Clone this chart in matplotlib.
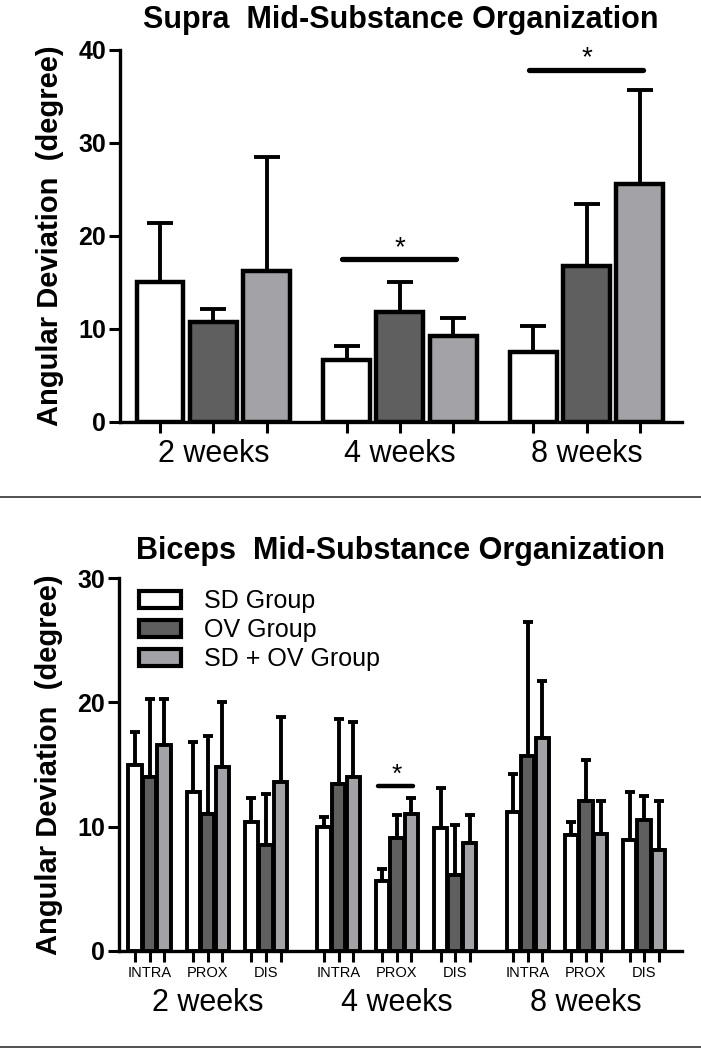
import numpy as np
import matplotlib.pyplot as plt
from matplotlib.patches import Patch
from matplotlib.lines import Line2D
from matplotlib.transforms import blended_transform_factory

plt.rcParams['font.family'] = ['Liberation Sans', 'DejaVu Sans']

# ---- Supra data (mean, error length) ----
weeks = ['2 weeks', '4 weeks', '8 weeks']
groups = ['SD Group', 'OV Group', 'SD + OV Group']
supra_sd = [15.0, 6.7, 7.5]
supra_sd_err = [6.4, 1.5, 2.8]
supra_ov = [10.8, 11.8, 16.8]
supra_ov_err = [1.4, 3.2, 6.6]
supra_sdov = [16.2, 9.3, 25.6]
supra_sdov_err = [12.3, 1.9, 10.1]
# significance: (week index, line height)
supra_sig = [(1, 17.5), (2, 37.9)]

# ---- Biceps data: 2w INTRA/PROX/DIS, 4w ..., 8w ... ----
regions = ['INTRA', 'PROX', 'DIS']
biceps_sd = [15.0, 12.8, 10.4, 10.0, 5.6, 9.9, 11.2, 9.3, 8.9]
biceps_sd_err = [2.6, 4.0, 1.9, 0.8, 1.0, 3.2, 3.0, 1.1, 3.9]
biceps_ov = [14.0, 11.0, 8.5, 13.4, 9.1, 6.1, 15.7, 12.1, 10.5]
biceps_ov_err = [6.3, 6.3, 4.1, 5.3, 1.8, 4.0, 10.8, 3.3, 2.0]
biceps_sdov = [16.6, 14.8, 13.6, 14.0, 11.0, 8.7, 17.1, 9.4, 8.1]
biceps_sdov_err = [3.7, 5.2, 5.2, 4.4, 1.3, 2.2, 4.6, 2.7, 4.0]
# significance: (subgroup index, line height)
biceps_sig = [(4, 13.3)]

colors = ['white', '#5f5f5f', '#a3a3a7']

fig = plt.figure(figsize=(7.01, 10.5), dpi=100)

# ================= top chart =================
ax1 = fig.add_axes([0.1712, 0.5981, 0.8017, 0.3543])
gpos = np.array([0, 3.5, 7])
series = [(supra_sd, supra_sd_err), (supra_ov, supra_ov_err), (supra_sdov, supra_sdov_err)]
for i, (m, e) in enumerate(series):
    x = gpos + i
    ax1.bar(x, m, 0.88, color=colors[i], edgecolor='black', linewidth=3.2, zorder=3,
            yerr=[np.zeros(len(e)), e], capsize=9.4,
            error_kw=dict(elinewidth=2.8, capthick=2.8, ecolor='black', zorder=2))
for wi, h in supra_sig:
    ax1.plot([gpos[wi] - 0.08, gpos[wi] + 2.05], [h, h], color='black', lw=3.8,
             solid_capstyle='round', zorder=4)
    ax1.text(gpos[wi] + 1, h - 0.2, '*', ha='center', va='bottom', fontsize=20)

ax1.set_xlim(-0.75, 9.79)
ax1.set_ylim(0, 40)
ax1.set_yticks([0, 10, 20, 30, 40])
ax1.xaxis.remove_overlapping_locs = False
ax1.set_xticks(np.concatenate([gpos + k for k in range(3)]))
ax1.set_xticklabels([])
ax1.set_xticks(gpos + 1, minor=True)
ax1.set_xticklabels(weeks, minor=True, fontsize=22)
ax1.tick_params(axis='x', which='minor', length=0, pad=12)
ax1.set_title('Supra  Mid-Substance Organization', fontsize=22, fontweight='bold', pad=16)
ax1.set_ylabel('Angular Deviation  (degree)', fontsize=21, fontweight='bold')
ax1.yaxis.set_label_coords(-0.10, 0.5)

# ================= bottom chart =================
ax2 = fig.add_axes([0.1698, 0.0943, 0.8031, 0.3552])
sub = np.array([w * 13 + r * 4 for w in range(3) for r in range(3)])
series = [(biceps_sd, biceps_sd_err), (biceps_ov, biceps_ov_err), (biceps_sdov, biceps_sdov_err)]
for i, (m, e) in enumerate(series):
    x = sub + i
    ax2.bar(x, m, 0.92, color=colors[i], edgecolor='black', linewidth=2.8, zorder=3,
            yerr=[np.zeros(len(e)), e], capsize=3.8,
            error_kw=dict(elinewidth=2.8, capthick=2.8, ecolor='black', zorder=2))
for si, h in biceps_sig:
    ax2.plot([sub[si] - 0.3, sub[si] + 2.1], [h, h], color='black', lw=3.2,
             solid_capstyle='round', zorder=4)
    ax2.text(sub[si] + 1, h - 0.1, '*', ha='center', va='bottom', fontsize=19)

ax2.set_xlim(-1.1, 37.6)
ax2.set_ylim(0, 30)
ax2.set_yticks([0, 10, 20, 30])
ax2.xaxis.remove_overlapping_locs = False
ax2.set_xticks(np.concatenate([sub + k for k in range(3)]))
ax2.set_xticklabels([])
ax2.set_xticks(sub + 1, minor=True)
ax2.set_xticklabels(regions * 3, minor=True, fontsize=10.5)
ax2.tick_params(axis='x', which='minor', length=0, pad=11)
trans = blended_transform_factory(ax2.transData, ax2.transAxes)
for w in range(3):
    ax2.text(w * 13 + 5, -0.10, weeks[w], transform=trans, ha='center', va='top', fontsize=22)
ax2.set_title('Biceps  Mid-Substance Organization', fontsize=22, fontweight='bold', pad=14)
ax2.set_ylabel('Angular Deviation  (degree)', fontsize=21, fontweight='bold')
ax2.yaxis.set_label_coords(-0.10, 0.5)

handles = [Patch(facecolor=c, edgecolor='black', linewidth=3) for c in colors]
ax2.legend(handles, groups, loc='upper left', bbox_to_anchor=(0.035, 0.97), frameon=False,
           fontsize=18, handlelength=1.7, handleheight=0.7, handletextpad=0.9,
           labelspacing=0.2, borderpad=0, borderaxespad=0)

for ax in (ax1, ax2):
    for s in ('top', 'right'):
        ax.spines[s].set_visible(False)
    for s in ('left', 'bottom'):
        ax.spines[s].set_linewidth(2.4)
    ax.tick_params(axis='both', which='major', direction='out', length=8, width=2.2)
    ax.tick_params(axis='y', labelsize=18, pad=2)
    for t in ax.get_yticklabels():
        t.set_fontweight('bold')

# separator lines between panels
fig.add_artist(Line2D([0, 1], [0.5267, 0.5267], color='#333333', lw=1.2))
fig.add_artist(Line2D([0, 1], [0.0029, 0.0029], color='#333333', lw=1.2))

fig.savefig('out.png', dpi=100)
